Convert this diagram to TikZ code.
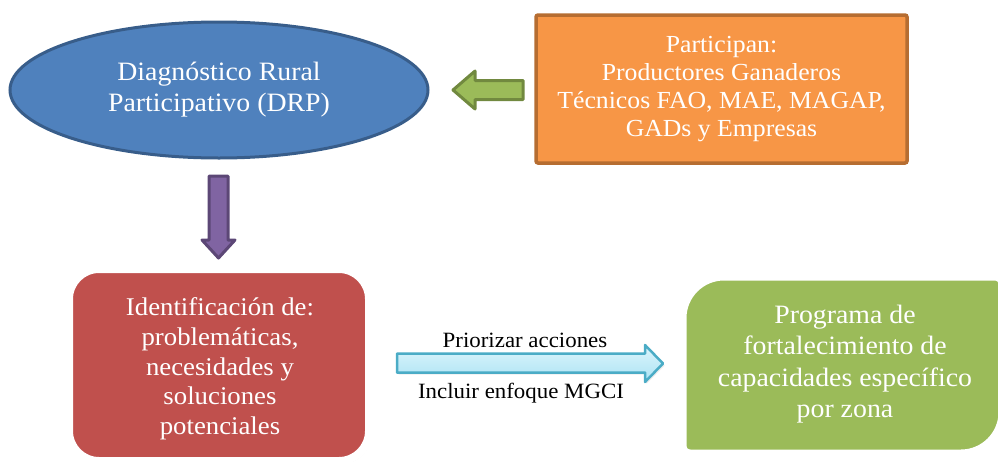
\documentclass[tikz,border=0pt]{standalone}
\usepackage{fontspec}
\setmainfont[FakeStretch=1.05]{Liberation Serif}
\usetikzlibrary{shapes.geometric,shadows}
\definecolor{blueF}{HTML}{4F81BD}
\definecolor{blueD}{HTML}{385D8A}
\definecolor{orangeF}{HTML}{F79646}
\definecolor{orangeD}{HTML}{B66D31}
\definecolor{greenF}{HTML}{9BBB59}
\definecolor{greenD}{HTML}{71893F}
\definecolor{purpleF}{HTML}{8064A2}
\definecolor{purpleD}{HTML}{5C4776}
\definecolor{redF}{HTML}{C0504D}
\definecolor{cyanT}{HTML}{DDF5FC}
\definecolor{cyanB}{HTML}{ABE3F4}
\definecolor{cyanD}{HTML}{4BACC6}
\tikzset{
  blockarrow/.style={line width=3pt, line join=round},
  boxtext/.style={text=white, align=center, inner sep=0pt},
  lbl/.style={anchor=base, inner sep=0pt, font=\fontsize{21.8}{24}\selectfont},
  softshadow/.style={drop shadow={opacity=0.25, shadow xshift=2pt, shadow yshift=-3pt}}
}
\begin{document}
\begin{tikzpicture}[x=1pt,y=-1pt]
\useasboundingbox (0,0) rectangle (998,461);
% ellipse
\node[ellipse, draw=blueD, fill=blueF, line width=3pt, minimum width=418pt, minimum height=136pt,
  boxtext, font=\fontsize{26.5}{31}\selectfont] (drp) at (219,90)
  {Diagnóstico Rural\\Participativo (DRP)};
% orange box
\node[rectangle, rounded corners=2pt, draw=orangeD, fill=orangeF, line width=3.5pt,
  minimum width=371pt, minimum height=148pt, boxtext, font=\fontsize{24.5}{27.7}\selectfont] (part) at (721.5,89)
  {Participan:\\Productores Ganaderos\\Técnicos FAO, MAE, MAGAP,\\GADs y Empresas};
% green arrow (from part to drp)
\draw[blockarrow, draw=greenD, fill=greenF]
  (453,90) -- (475,71) -- (475,80.5) -- (523,80.5) -- (523,99.5) -- (475,99.5) -- (475,109) -- cycle;
% purple arrow (from drp to ident)
\draw[blockarrow, draw=purpleD, fill=purpleF]
  (218.5,258) -- (202,240) -- (209,240) -- (209,176) -- (228,176) -- (228,240) -- (235,240) -- cycle;
% red box
\node[rectangle, rounded corners=30pt, draw=white, fill=redF, line width=8pt, softshadow,
  minimum width=300pt, minimum height=192pt] (ident) at (219,365) {};
\node[boxtext, font=\fontsize{25.5}{29.7}\selectfont] (identtxt) at (220,369)
  {Identificación de:\\problemáticas,\\necesidades y\\soluciones\\potenciales};
% cyan arrow (from ident to prog)
\draw[blockarrow, line width=2.5pt, draw=cyanD, top color=cyanT, bottom color=cyanB,
  drop shadow={opacity=0.15, shadow xshift=1.5pt, shadow yshift=-2pt}]
  (663,363.5) -- (645,345) -- (645,353.5) -- (397,353.5) -- (397,372.5) -- (645,372.5) -- (645,382) -- cycle;
\node[lbl] (l1) at (525,347) {Priorizar acciones};
\node[lbl] (l2) at (521,398) {Incluir enfoque MGCI};
% green box
\draw[fill=greenF, draw=white, line width=9pt, softshadow]
  (682,365) [rounded corners=42pt] -- (682,276) -- (840,276)
  [rounded corners=8pt] -- (1003,276) -- (1003,365)
  [rounded corners=42pt] -- (1003,454) -- (840,454)
  [rounded corners=8pt] -- (682,454) -- cycle;
\node[boxtext, font=\fontsize{26.5}{31.3}\selectfont] (prog) at (845,364)
  {Programa de\\fortalecimiento de\\capacidades específico\\por zona};
\end{tikzpicture}
\end{document}
